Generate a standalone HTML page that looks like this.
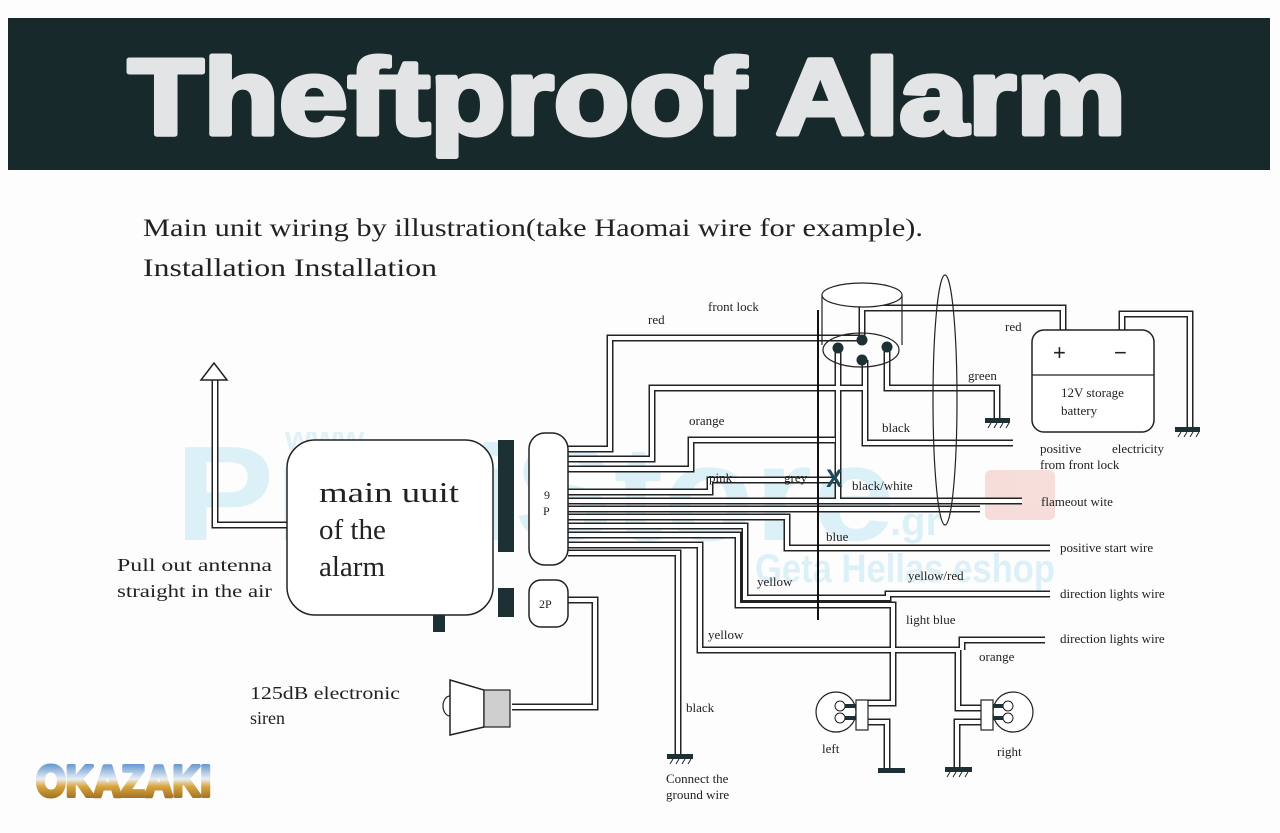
<!DOCTYPE html>
<html><head><meta charset="utf-8"><style>
html,body{margin:0;padding:0;background:#fff;}
svg{display:block;}
.s{font-family:"Liberation Serif",serif;fill:#222;}
</style></head><body>
<svg width="1280" height="833" viewBox="0 0 1280 833" xmlns="http://www.w3.org/2000/svg">
<rect width="1280" height="833" fill="#fdfdfd"/>
<!-- banner -->
<rect x="8" y="18" width="1262" height="152" fill="#17292b"/>
<text x="128" y="134" font-family="Liberation Sans,sans-serif" font-weight="bold" font-size="108" fill="#e2e4e6" stroke="#e2e4e6" stroke-width="5" stroke-linejoin="round" textLength="998" lengthAdjust="spacingAndGlyphs">Theftproof Alarm</text>

<!-- watermark -->
<g opacity="0.22" font-family="Liberation Sans,sans-serif" font-weight="bold">
<text x="285" y="450" font-size="34" fill="#7fcbe8">www.</text>
<text x="175" y="540" font-size="135" fill="#6cc5ea" textLength="720" lengthAdjust="spacingAndGlyphs">ProfiStore</text>
<text x="890" y="535" font-size="40" fill="#6cc5ea">.gr</text>
<rect x="985" y="470" width="70" height="50" rx="6" fill="#e07060"/>
<text x="755" y="582" font-size="40" fill="#6cc5ea" textLength="300" lengthAdjust="spacingAndGlyphs">Geta Hellas eshop</text>
</g>

<text class="s" x="143" y="236" font-size="25" textLength="780" lengthAdjust="spacingAndGlyphs">Main unit wiring by illustration(take Haomai wire for example).</text>
<text class="s" x="143" y="276" font-size="25" textLength="294" lengthAdjust="spacingAndGlyphs">Installation Installation</text>

<defs>
<g id="w" fill="none">
<path d="M568,449 H610 V338 H862"/>
<path d="M568,459 H652 V388 H865 V443 H1013"/>
<path d="M865,360 V388"/>
<path d="M568,469 H691 V440 H835"/>
<path d="M568,492 H710 V480 H835"/>
<path d="M568,501 H1022"/>
<path d="M568,509 H980"/>
<path d="M568,517 H787 V548 H1050"/>
<path d="M568,526 H745 V598 H888 V594 H1050"/>
<path d="M568,535 H738 V605 H893 V703 H866"/>
<path d="M568,545 H700 V650 H893"/>
<path d="M893,650 H958 V708 H992"/>
<path d="M1045,640 H962 V650"/>
<path d="M568,553 H678 V755"/>
<path d="M568,600 H595 V707 H512"/>
<path d="M866,722 H887 V770"/>
<path d="M982,722 H957 V768"/>
<path d="M838,350 V501"/>
<path d="M862,340 V308 H1063 V330"/>
<path d="M1122,330 V314 H1190 V428"/>
<path d="M887,348 V388 H997 V418"/>
<path d="M215,380 V525 H287"/>
</g>
</defs>
<use href="#w" stroke="#222" stroke-width="7"/>
<use href="#w" stroke="#fff" stroke-width="4"/>

<!-- antenna -->
<polygon points="214,363 201,380 227,380" fill="#fff" stroke="#222" stroke-width="1.5"/>
<!-- main unit -->
<rect x="287" y="440" width="206" height="175" rx="28" fill="#fff" stroke="#222" stroke-width="1.5"/>
<rect x="433" y="615" width="12" height="17" fill="#1d3034"/>
<rect x="498" y="440" width="16" height="112" fill="#1d3034"/>
<rect x="498" y="588" width="16" height="29" fill="#1d3034"/>
<rect x="529" y="433" width="39" height="132" rx="16" fill="#fff" stroke="#222" stroke-width="1.5"/>
<rect x="529" y="580" width="39" height="47" rx="12" fill="#fff" stroke="#222" stroke-width="1.5"/>
<text class="s" x="544" y="499" font-size="12">9</text>
<text class="s" x="543" y="515" font-size="12">P</text>
<text class="s" x="539" y="608" font-size="12">2P</text>
<text class="s" x="319" y="502" font-size="29" fill="#1d3034" textLength="140" lengthAdjust="spacingAndGlyphs">main uuit</text>
<text class="s" x="319" y="539" font-size="29" fill="#1d3034">of the</text>
<text class="s" x="319" y="576" font-size="29" fill="#1d3034">alarm</text>
<text class="s" x="117" y="571" font-size="18" textLength="155" lengthAdjust="spacingAndGlyphs">Pull out antenna</text>
<text class="s" x="117" y="597" font-size="18" textLength="155" lengthAdjust="spacingAndGlyphs">straight in the air</text>
<text class="s" x="250" y="699" font-size="18" textLength="150" lengthAdjust="spacingAndGlyphs">125dB electronic</text>
<text class="s" x="250" y="724" font-size="18">siren</text>
<!-- siren -->
<path d="M450,696 A7,10 0 0 0 450,716" fill="none" stroke="#222" stroke-width="1.2"/>
<polygon points="450,680 484,690 484,727 450,735" fill="#fff" stroke="#222" stroke-width="1.5"/>
<rect x="484" y="690" width="26" height="37" fill="#cfcfcf" stroke="#222" stroke-width="1.2"/>

<!-- ignition -->
<path d="M822,295 V345 M902,295 V345" stroke="#222" stroke-width="1.2"/>
<ellipse cx="862" cy="295" rx="40" ry="12" fill="#fff" stroke="#222" stroke-width="1.2"/>
<ellipse cx="861" cy="350" rx="38" ry="17" fill="none" stroke="#222" stroke-width="1.2"/>
<circle cx="838" cy="348" r="5.5" fill="#1d3034"/>
<circle cx="862" cy="340" r="5.5" fill="#1d3034"/>
<circle cx="887" cy="347" r="5.5" fill="#1d3034"/>
<circle cx="862" cy="360" r="5.5" fill="#1d3034"/>
<line x1="818" y1="310" x2="818" y2="620" stroke="#111" stroke-width="2"/>
<text x="826" y="487" font-family="Liberation Sans,sans-serif" font-weight="bold" font-size="25" fill="#1d4a56">X</text>
<ellipse cx="945" cy="400" rx="12" ry="125" fill="none" stroke="#222" stroke-width="1.2"/>

<!-- battery -->
<rect x="1032" y="330" width="122" height="102" rx="12" fill="#fff" stroke="#222" stroke-width="1.5"/>
<line x1="1032" y1="375" x2="1154" y2="375" stroke="#222" stroke-width="1.2"/>
<text x="1053" y="360" font-family="Liberation Sans,sans-serif" font-size="22" fill="#222">+</text>
<text x="1114" y="360" font-family="Liberation Sans,sans-serif" font-size="22" fill="#222">−</text>
<text class="s" x="1061" y="397" font-size="13">12V storage</text>
<text class="s" x="1061" y="415" font-size="13">battery</text>

<!-- grounds -->
<g fill="#1d3034">
<rect x="985" y="418" width="25" height="5"/>
<rect x="1175" y="427" width="25" height="5"/>
<rect x="667" y="754" width="26" height="5"/>
<rect x="878" y="768" width="27" height="5"/>
<rect x="945" y="767" width="27" height="5"/>
</g>
<g stroke="#222" stroke-width="1">
<path d="M988,428 l3,-5 M994,428 l3,-5 M1000,428 l3,-5 M1006,428 l3,-5"/>
<path d="M1178,437 l3,-5 M1184,437 l3,-5 M1190,437 l3,-5 M1196,437 l3,-5"/>
<path d="M670,764 l3,-5 M676,764 l3,-5 M682,764 l3,-5 M688,764 l3,-5"/>
<path d="M947,777 l3,-5 M953,777 l3,-5 M959,777 l3,-5 M965,777 l3,-5"/>
</g>

<!-- lamps -->
<circle cx="836" cy="712" r="20" fill="#fff" stroke="#222" stroke-width="1.2"/>
<circle cx="840" cy="706" r="5" fill="none" stroke="#222"/><circle cx="840" cy="718" r="5" fill="none" stroke="#222"/>
<rect x="845" y="704" width="11" height="4" fill="#1d3034"/><rect x="845" y="716" width="11" height="4" fill="#1d3034"/>
<rect x="856" y="700" width="12" height="30" fill="#fff" stroke="#222" stroke-width="1.2"/>
<circle cx="1013" cy="712" r="20" fill="#fff" stroke="#222" stroke-width="1.2"/>
<circle cx="1008" cy="706" r="5" fill="none" stroke="#222"/><circle cx="1008" cy="718" r="5" fill="none" stroke="#222"/>
<rect x="992" y="704" width="11" height="4" fill="#1d3034"/><rect x="992" y="716" width="11" height="4" fill="#1d3034"/>
<rect x="981" y="700" width="12" height="30" fill="#fff" stroke="#222" stroke-width="1.2"/>

<!-- labels -->
<g class="s" font-size="13">
<text x="648" y="324">red</text>
<text x="708" y="311">front lock</text>
<text x="689" y="425">orange</text>
<text x="709" y="482">pink</text>
<text x="784" y="482">grey</text>
<text x="852" y="490">black/white</text>
<text x="882" y="432">black</text>
<text x="968" y="380">green</text>
<text x="1005" y="331">red</text>
<text x="826" y="541">blue</text>
<text x="757" y="586">yellow</text>
<text x="908" y="580">yellow/red</text>
<text x="906" y="624">light blue</text>
<text x="708" y="639">yellow</text>
<text x="979" y="661">orange</text>
<text x="686" y="712">black</text>
<text x="822" y="753">left</text>
<text x="997" y="756">right</text>
<text x="666" y="783">Connect the</text>
<text x="666" y="799">ground wire</text>
<text x="1040" y="453">positive</text>
<text x="1112" y="453">electricity</text>
<text x="1040" y="469">from front lock</text>
<text x="1041" y="506">flameout wite</text>
<text x="1060" y="552">positive start wire</text>
<text x="1060" y="598">direction lights wire</text>
<text x="1060" y="643">direction lights wire</text>
</g>

<!-- logo -->
<defs><linearGradient id="lg" x1="0" y1="0" x2="0" y2="1">
<stop offset="0" stop-color="#2a6fc0"/><stop offset="0.45" stop-color="#e8eef4"/><stop offset="0.6" stop-color="#d9a640"/><stop offset="1" stop-color="#7a5010"/></linearGradient></defs>
<text x="36" y="796" font-family="Liberation Sans,sans-serif" font-weight="bold" font-size="44" fill="url(#lg)" stroke="url(#lg)" stroke-width="4" stroke-linejoin="round" textLength="175" lengthAdjust="spacingAndGlyphs">OKAZAKI</text>
</svg>
</body></html>
